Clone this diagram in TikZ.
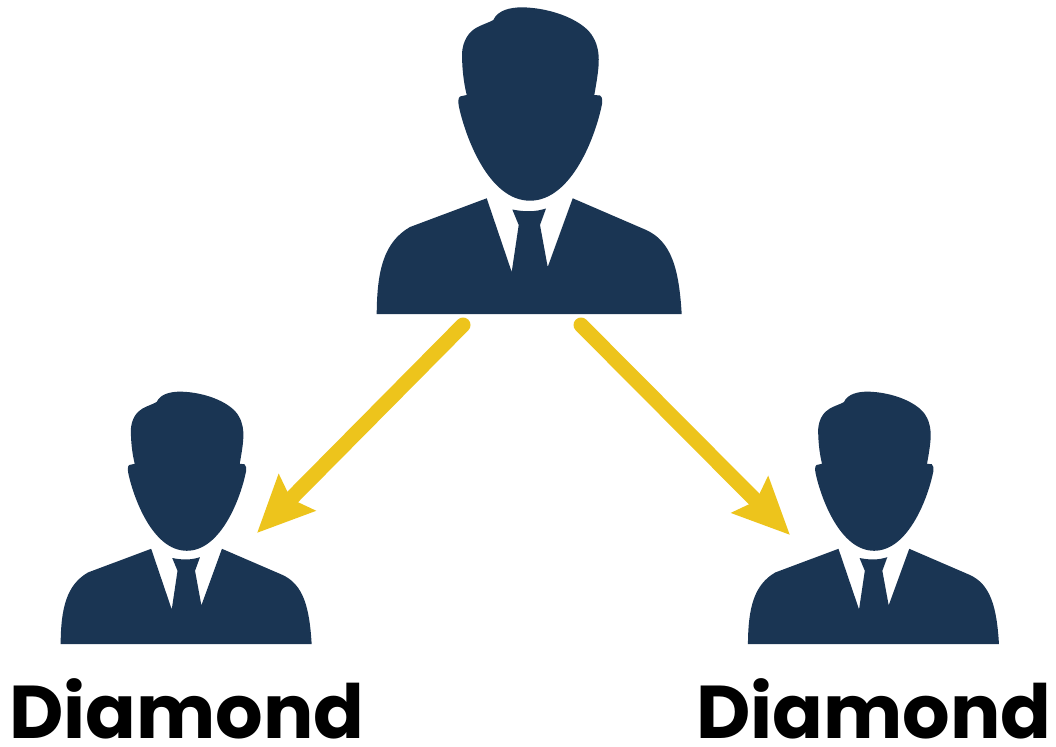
\documentclass[tikz,border=0pt]{standalone}
\usepackage{fontspec}
\setmainfont{Poppins}
\usetikzlibrary{arrows.meta}
\definecolor{suit}{HTML}{1A3553}
\definecolor{gold}{HTML}{EDC41C}
\tikzset{
  x=1pt,y=-1pt,
  silhouette/.style={fill=suit,draw=none},
  arrowline/.style={draw=gold,line width=15pt,line cap=round,-{Stealth[length=56pt,width=50pt,inset=8pt]}},
  caption/.style={inner sep=0pt,font=\fontsize{74.8}{74.8}\selectfont\bfseries,text=black,anchor=base}
}
\newcommand{\personshape}{%
  \fill[silhouette] (133.3,20) .. controls (138,10) and (150,7.5) .. (162,7.3)
    .. controls (195,8) and (225,22) .. (233,37)
    .. controls (238,45) and (239,55) .. (238.7,62)
    .. controls (238.5,72) and (236,85) .. (234.3,95)
    -- (240,95.5) .. controls (242.5,97) and (242.5,101) .. (242,104)
    .. controls (236,135) and (212,200.7) .. (170,200.7)
    .. controls (128,200.7) and (105,135) .. (99,107)
    .. controls (98,102) and (98,98) .. (100,96.5)
    -- (106.7,95)
    .. controls (103,80) and (102,65) .. (102,53)
    .. controls (103,40) and (109,32) .. (116,28)
    .. controls (122,24.5) and (128,23) .. (133.3,20) -- cycle;
  \fill[silhouette] (16.7,314) .. controls (17,270) and (24,242) .. (50,227)
    -- (126.7,198.3) -- (151.7,272) -- (158.7,225) -- (152.3,209.5)
    .. controls (165,212) and (175,212) .. (186,208.5)
    -- (180,225) -- (187.7,267) -- (212.7,198.3)
    -- (285,229.5)
    .. controls (312,241) and (319,270) .. (321.7,314) -- cycle;
}
\begin{document}
\begin{tikzpicture}
\useasboundingbox (0,0) rectangle (1056,746);
\fill[white] (0,0) rectangle (1056,746);
\begin{scope}[shift={(360,0)}]\personshape\end{scope}
\begin{scope}[shift={(46.9,385.6)},x=0.823pt,y=-0.823pt]\personshape\end{scope}
\begin{scope}[shift={(734.2,385.6)},x=0.823pt,y=-0.823pt]\personshape\end{scope}
\coordinate (topL) at (463,325);
\coordinate (topR) at (581,325);
\coordinate (tipL) at (257,533);
\coordinate (tipR) at (790,535);
\draw[arrowline] (topL) -- (tipL);
\draw[arrowline] (topR) -- (tipR);
\node[caption] (capL) at (187,738) {Diamond};
\node[caption] (capR) at (874,738) {Diamond};
\end{tikzpicture}
\end{document}
